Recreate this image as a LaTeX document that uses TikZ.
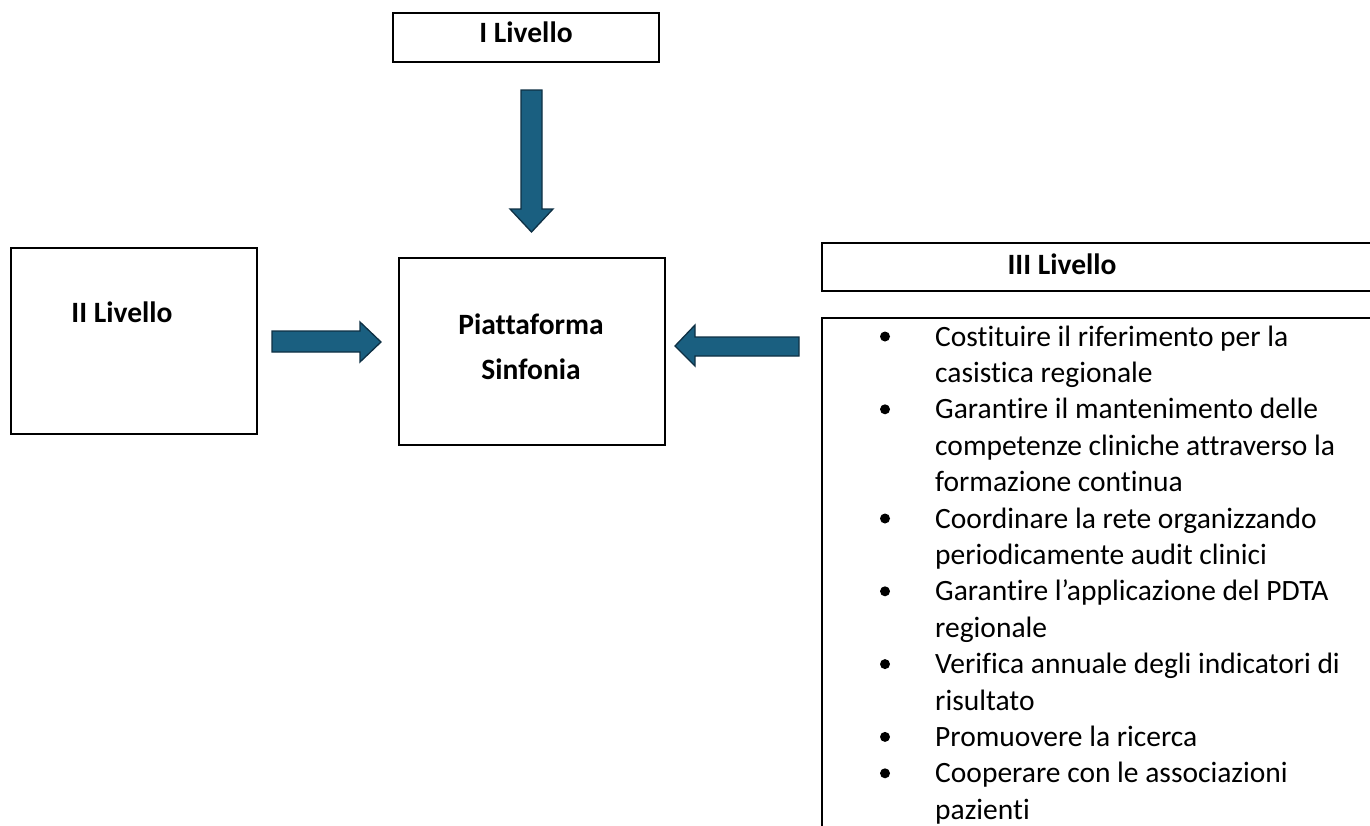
\documentclass[tikz,border=0pt]{standalone}
\usepackage{fontspec}
\setmainfont{Carlito}[Ligatures={NoCommon,NoRequired,NoContextual}]
\definecolor{arrfill}{RGB}{26,95,128}
\definecolor{arrdraw}{RGB}{14,48,68}
\begin{document}
\begin{tikzpicture}[x=1pt,y=-1pt,
  box/.style={draw=black,line width=2pt,anchor=north west,inner sep=0pt},
  lbl/.style={font=\fontsize{29.5}{36.4}\selectfont\bfseries,inner sep=0pt,anchor=base},
  blockarrow/.style={fill=arrfill,draw=arrdraw,line width=1.3pt,line join=miter},
  itemline/.style={anchor=base west,inner sep=0pt,font=\fontsize{29.5}{36.4}\selectfont}]
\useasboundingbox (0,0) rectangle (1370,825);
\begin{scope}
\clip (0,0) rectangle (1370,825);
% boxes
\node[box,minimum width=266pt,minimum height=49pt] (b1) at (392,12) {};
\node[box,minimum width=246pt,minimum height=186pt] (b2) at (10,247) {};
\node[box,minimum width=266pt,minimum height=187pt] (bp) at (398,257) {};
\node[box,minimum width=580pt,minimum height=48pt] (b3) at (821,242) {};
\node[box,minimum width=580pt,minimum height=540pt] (bl) at (821,317) {};
% labels
\node[lbl] (t1) at (526,42) {I Livello};
\node[lbl] (t2) at (122,322) {II Livello};
\node[lbl] (tp1) at (531,334) {Piattaforma};
\node[lbl] (tp2) at (531,379) {Sinfonia};
\node[lbl] (t3) at (1062,274) {III Livello};
% block arrows
\draw[blockarrow] (521,90) -- (542,90) -- (542,209) -- (553,209) -- (531.5,232) -- (510,209) -- (521,209) -- cycle;
\draw[blockarrow] (272,331) -- (360,331) -- (360,322) -- (381,342) -- (360,362) -- (360,352) -- (272,352) -- cycle;
\draw[blockarrow] (799,337) -- (695,337) -- (695,325) -- (675,346) -- (695,366) -- (695,356) -- (799,356) -- cycle;
% list
\foreach \t [count=\k from 0] in {Costituire il riferimento per la, casistica regionale, Garantire il mantenimento delle, competenze cliniche attraverso la, formazione continua, Coordinare la rete organizzando, periodicamente audit clinici, Garantire l’applicazione del PDTA, regionale, Verifica annuale degli indicatori di, risultato, Promuovere la ricerca, Cooperare con le associazioni, pazienti}
  \node[itemline] (li\k) at (935,346+\k*36.4) {\t};
\foreach \k in {0,2,5,7,9,11,12}
  \fill (885,346+\k*36.4-9.5) circle (5);
\end{scope}
\end{tikzpicture}
\end{document}
